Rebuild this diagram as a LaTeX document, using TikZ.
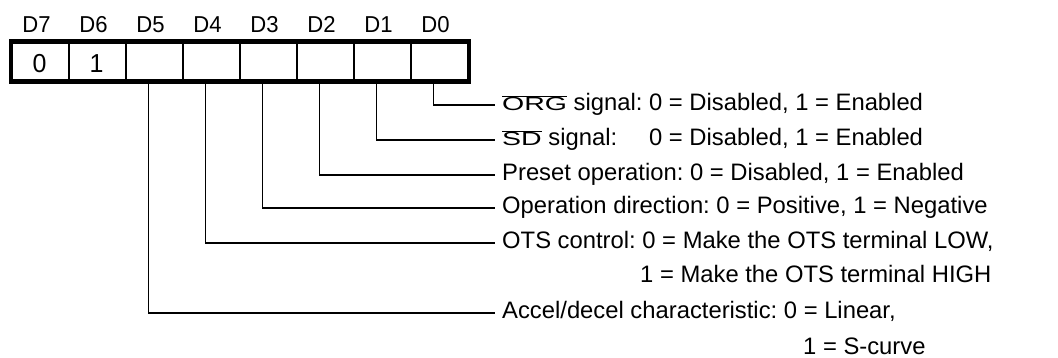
\documentclass[tikz,border=0pt]{standalone}
\usepackage{fontspec}
\usepackage{graphicx}
\setmainfont{Liberation Sans}
\newfontfamily\labfont{Liberation Sans}[FakeStretch=0.96]
\usetikzlibrary{calc}
\newcommand\ovltext[1]{$\overline{\hbox{\scalebox{1.5}[1]{\fontsize{19}{19}\selectfont #1}}}$}
\begin{document}
\begin{tikzpicture}[x=1pt,y=-1pt,
  cell/.style={draw,line width=2.2pt,minimum width=57pt,minimum height=38pt,inner sep=0pt},
  bitval/.style={inner sep=0pt,anchor=base,font=\labfont\fontsize{26}{26}\selectfont},
  bitlab/.style={inner sep=0pt,anchor=base,font=\labfont\fontsize{23}{23}\selectfont},
  desc/.style={anchor=west,inner sep=0pt,font=\fontsize{23.8}{23.8}\selectfont\frenchspacing,text height=13pt,text depth=1pt},
  conn/.style={line width=1.5pt}]
\useasboundingbox (0,0) rectangle (1058,358);
% cells
\foreach \i/\v [count=\k from 0] in {7/0,6/1,5/,4/,3/,2/,1/,0/}{
  \node[cell] (c\i) at ({40.5+57*\k},61.5) {};
  \node[bitval] (v\i) at ($(c\i.center)+(-1,11.5)$) {\v};
  \node[bitlab] (l\i) at ({36.5+57*\k},33) {D\i};
}
\draw[line width=4.5pt] (c7.north west) rectangle (c0.south east);
% connection points
\foreach \i in {0,...,5}{
  \coordinate (p\i) at ($(c\i.south)+(-6,0)$);
}
% descriptions
\node[desc] (t0) at (502,105) {\ovltext{ORG} signal: 0 = Disabled, 1 = Enabled};
\node[desc] (t1) at (502,140) {\rlap{\ovltext{SD} signal:}\phantom{\ovltext{ORG} signal: }0 = Disabled, 1 = Enabled};
\node[desc] (t2) at (502,175) {Preset operation: 0 = Disabled, 1 = Enabled};
\node[desc] (t3) at (502,208) {Operation direction: 0 = Positive, 1 = Negative};
\node[desc] (t4) at (502,243) {OTS control: 0 = Make the OTS terminal LOW,};
\node[desc] (t4b) at (640,277) {1 = Make the OTS terminal HIGH};
\node[desc] (t5) at (502,313) {Accel/decel characteristic: 0 = Linear,};
\node[desc] (t5b) at (803,348) {1 = S-curve};
% connectors
\foreach \i in {0,...,5}{
  \draw[conn] (p\i) |- ([xshift=-7pt]t\i.west);
}
\end{tikzpicture}
\end{document}
